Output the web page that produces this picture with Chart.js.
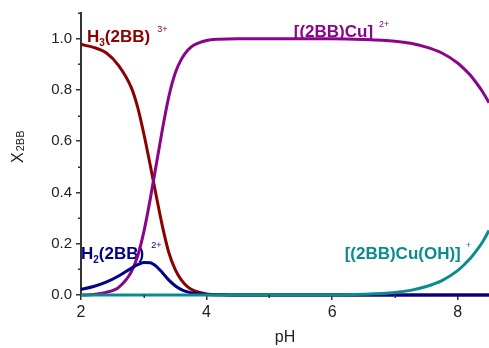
<!DOCTYPE html>
<html>
<head>
<meta charset="utf-8">
<script src="https://cdn.jsdelivr.net/npm/chart.js@4/dist/chart.umd.min.js"></script>
<style>
html,body{margin:0;padding:0;background:#fff;}
canvas{display:block;}
</style>
</head>
<body>
<canvas id="c" width="489" height="348"></canvas>
<script>
// ---- data ----
const pH = [2.0, 2.2, 2.4, 2.6, 2.8, 2.9, 3.0, 3.1, 3.2, 3.3, 3.4, 3.5, 3.6, 3.7, 3.8, 4.0, 4.2, 4.5, 5.0, 5.5, 6.0, 6.5, 7.0, 7.25, 7.5, 7.75, 8.0, 8.1, 8.2, 8.3, 8.4, 8.5];
const H3L   = [0.977, 0.966, 0.945, 0.895, 0.81, 0.735, 0.63, 0.51, 0.385, 0.265, 0.165, 0.10, 0.058, 0.032, 0.017, 0.004, 0.001, 0, 0, 0, 0, 0, 0, 0, 0, 0, 0, 0, 0, 0, 0, 0];
const H2L   = [0.022, 0.033, 0.05, 0.074, 0.104, 0.118, 0.127, 0.126, 0.112, 0.086, 0.058, 0.036, 0.021, 0.012, 0.007, 0.002, 0.001, 0, 0, 0, 0, 0, 0, 0, 0, 0, 0, 0, 0, 0, 0, 0];
const CuL   = [0, 0.002, 0.01, 0.03, 0.09, 0.15, 0.245, 0.37, 0.51, 0.65, 0.775, 0.865, 0.92, 0.955, 0.975, 0.993, 0.998, 1.0, 1.0, 1.0, 1.0, 0.997, 0.99, 0.982, 0.967, 0.944, 0.905, 0.883, 0.858, 0.827, 0.792, 0.75];
const CuOHL = [0, 0, 0, 0, 0, 0, 0, 0, 0, 0, 0, 0, 0, 0, 0, 0, 0, 0, 0, 0, 0, 0.003, 0.01, 0.018, 0.033, 0.056, 0.095, 0.117, 0.142, 0.173, 0.208, 0.252];
const xTicks = [2, 4, 6, 8];
const xMinor = [3, 5, 7];
const yTicks = [0, 0.2, 0.4, 0.6, 0.8, 1.0];
const yMinor = [0.1, 0.3, 0.5, 0.7, 0.9, 1.1];

const cRed = '#8b0000', cPur = '#8b058b', cBlue = '#00008b', cTeal = '#0a8c8c';
const FONT = '"Liberation Sans", Arial, sans-serif';

function pts(ys){ return pH.map((x,i)=>({x:x, y:ys[i]})); }

function ds(label, data, color){
  return {label, data: pts(data), borderColor: color, backgroundColor: color,
    borderWidth: 3, pointRadius: 0, cubicInterpolationMode: 'monotone', clip: false, fill: false};
}

function drawRich(ctx, x, y, parts){
  let cx = x;
  ctx.textBaseline = 'alphabetic';
  ctx.textAlign = 'left';
  for (const p of parts){
    ctx.font = p.font;
    ctx.fillText(p.t, cx, y + (p.dy||0));
    cx += ctx.measureText(p.t).width + (p.gap||0);
  }
}

const labelPlugin = {
  id: 'labels',
  beforeDatasetsDraw(chart){
    const ctx = chart.ctx, xs = chart.scales.x, ys = chart.scales.y;
    const big = 'bold 17px ' + FONT, sub = 'bold 10px ' + FONT, sup = '9px ' + FONT;
    ctx.save();
    ctx.fillStyle = cRed;
    drawRich(ctx, xs.getPixelForValue(2.095), ys.getPixelForValue(0.986), [
      {t:'H', font:big}, {t:'3', font:sub, dy:4}, {t:'(2BB)', font:big, gap:7}, {t:'3+', font:sup, dy:-10}]);
    ctx.fillStyle = cPur;
    drawRich(ctx, xs.getPixelForValue(5.39), ys.getPixelForValue(1.005), [
      {t:'[(2BB)Cu]', font:big, gap:6}, {t:'2+', font:sup, dy:-10}]);
    ctx.fillStyle = cBlue;
    drawRich(ctx, xs.getPixelForValue(2.0), ys.getPixelForValue(0.141), [
      {t:'H', font:big}, {t:'2', font:sub, dy:4}, {t:'(2BB)', font:big, gap:7}, {t:'2+', font:sup, dy:-11}]);
    ctx.fillStyle = cTeal;
    drawRich(ctx, xs.getPixelForValue(6.2), ys.getPixelForValue(0.141), [
      {t:'[(2BB)Cu(OH)]', font:big, gap:5}, {t:'+', font:sup, dy:-11}]);
    ctx.restore();
  },
  afterDraw(chart){
    const ctx = chart.ctx, xs = chart.scales.x, ys = chart.scales.y;
    const a = chart.chartArea;
    ctx.save();
    ctx.strokeStyle = '#333';
    ctx.lineWidth = 1.5;
    ctx.beginPath();
    for (const v of yMinor){ const p = Math.round(ys.getPixelForValue(v)) + 0.25; ctx.moveTo(a.left - 3, p); ctx.lineTo(a.left, p); }
    for (const v of xMinor){ const p = Math.round(xs.getPixelForValue(v)) + 0.25; ctx.moveTo(p, a.bottom); ctx.lineTo(p, a.bottom + 3); }
    ctx.stroke();
    // axis titles
    ctx.fillStyle = '#222';
    ctx.textBaseline = 'alphabetic';
    ctx.font = '16px ' + FONT;
    ctx.textAlign = 'center';
    ctx.fillText('pH', (a.left + a.right) / 2, 342);
    ctx.translate(23, 163);
    ctx.rotate(-Math.PI / 2);
    ctx.textAlign = 'left';
    ctx.font = '16px ' + FONT;
    ctx.fillText('X', 0, 0);
    const w = ctx.measureText('X').width;
    ctx.font = '11px ' + FONT;
    ctx.fillText('2BB', w + 1, 1);
    ctx.restore();
  }
};

new Chart(document.getElementById('c'), {
  type: 'line',
  data: {
    datasets: [
      ds('[(2BB)Cu(OH)]+', CuOHL, cTeal),
      ds('H2(2BB)2+', H2L, cBlue),
      ds('[(2BB)Cu]2+', CuL, cPur),
      ds('H3(2BB)3+', H3L, cRed)
    ]
  },
  options: {
    responsive: false,
    devicePixelRatio: 1,
    animation: false,
    layout: {padding: {top: 13, right: 0, left: 0, bottom: 0}},
    plugins: {legend: {display: false}, tooltip: {enabled: false}},
    scales: {
      x: {
        type: 'linear', min: 2, max: 8.5,
        afterBuildTicks: s => { s.ticks = xTicks.map(v => ({value: v})); },
        afterFit: s => { s.height = 53; },
        grid: {drawOnChartArea: false, drawTicks: true, tickLength: 5, color: '#333', lineWidth: 1.5},
        border: {display: true, color: '#333', width: 2},
        ticks: {color: '#222', font: {family: FONT, size: 16}, padding: 3, maxRotation: 0,
                callback: v => String(v)}
      },
      y: {
        type: 'linear', min: 0, max: 1.1,
        afterBuildTicks: s => { s.ticks = yTicks.map(v => ({value: v})); },
        afterFit: s => { s.width = 81; },
        grid: {drawOnChartArea: false, drawTicks: true, tickLength: 5, color: '#333', lineWidth: 1.5},
        border: {display: true, color: '#333', width: 2},
        ticks: {color: '#222', font: {family: FONT, size: 15}, padding: 4,
                callback: v => Number(v).toFixed(1)}
      }
    }
  },
  plugins: [labelPlugin]
});
</script>
</body>
</html>
